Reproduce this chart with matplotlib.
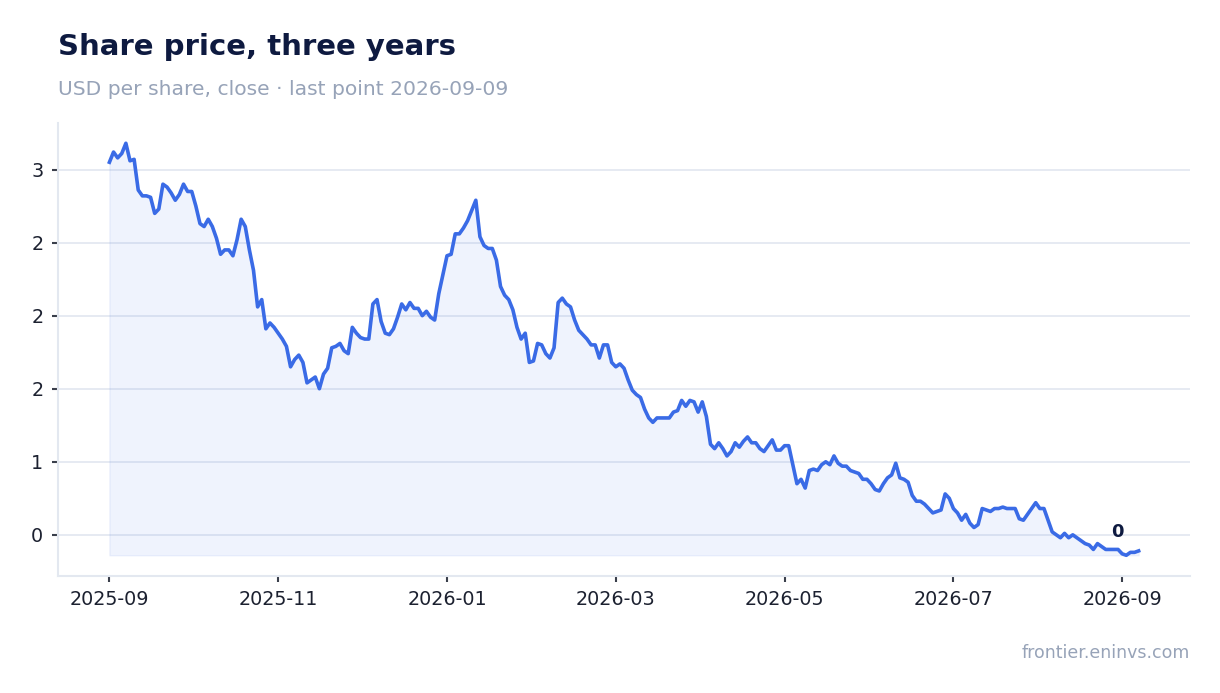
import matplotlib
matplotlib.use("Agg")
import matplotlib.pyplot as plt
import matplotlib.dates as mdates
import matplotlib.ticker as mticker
import numpy as np
import pandas as pd

# closing prices (evenly spaced points)
prices = [
    3.05, 3.12, 3.08, 3.11, 3.18, 3.06, 3.07, 2.86, 2.82, 2.82,
    2.81, 2.70, 2.73, 2.90, 2.88, 2.84, 2.79, 2.83, 2.90, 2.85,
    2.85, 2.75, 2.63, 2.61, 2.66, 2.61, 2.53, 2.42, 2.45, 2.45,
    2.41, 2.52, 2.66, 2.61, 2.45, 2.31, 2.06, 2.11, 1.91, 1.95,
    1.92, 1.88, 1.84, 1.79, 1.65, 1.70, 1.73,
    1.68, 1.54, 1.56, 1.58, 1.50, 1.60, 1.64, 1.78, 1.79, 1.81,
    1.76, 1.74, 1.92, 1.88, 1.85, 1.84, 1.84, 2.08, 2.11, 1.96,
    1.88, 1.87, 1.91, 1.99, 2.08, 2.04, 2.09, 2.05, 2.05, 2.00,
    2.03, 1.99, 1.97, 2.15, 2.28, 2.41, 2.42, 2.56, 2.56, 2.60,
    2.65, 2.72, 2.79, 2.54, 2.48, 2.46, 2.46, 2.38, 2.20,
    2.14, 2.11, 2.04, 1.92, 1.84, 1.88, 1.68, 1.69, 1.81, 1.80,
    1.74, 1.71, 1.78, 2.09, 2.12, 2.08, 2.06, 1.97, 1.90, 1.87,
    1.84, 1.80, 1.80, 1.71, 1.80, 1.80, 1.68, 1.65, 1.67, 1.64,
    1.56, 1.49, 1.46, 1.44, 1.36, 1.30, 1.27, 1.30, 1.30, 1.30,
    1.30, 1.34, 1.35, 1.42, 1.38, 1.42, 1.41,
    1.34, 1.41, 1.31, 1.12, 1.09, 1.13, 1.09, 1.04, 1.07, 1.13,
    1.10, 1.14, 1.17, 1.13, 1.13, 1.09, 1.07, 1.11, 1.15, 1.08,
    1.08, 1.11, 1.11, 0.98, 0.85, 0.88, 0.82, 0.94, 0.95, 0.94,
    0.98, 1.00, 0.98, 1.04, 0.99, 0.97, 0.97, 0.94, 0.93, 0.92,
    0.88, 0.88, 0.85, 0.81, 0.80, 0.85, 0.89,
    0.91, 0.99, 0.89, 0.88, 0.86, 0.77, 0.73, 0.73, 0.71, 0.68,
    0.65, 0.66, 0.67, 0.78, 0.75, 0.68, 0.65, 0.60, 0.64, 0.58,
    0.55, 0.57, 0.68, 0.67, 0.66, 0.68, 0.68, 0.69, 0.68, 0.68,
    0.68, 0.61, 0.60, 0.64, 0.68, 0.72, 0.68, 0.68,
    0.60, 0.52, 0.50, 0.48, 0.51, 0.48, 0.50, 0.48, 0.46, 0.44,
    0.43, 0.40, 0.44, 0.42, 0.40, 0.40, 0.40, 0.40, 0.37, 0.36,
    0.38, 0.38, 0.39,
]
first_day = "2025-09-01"
last_day = "2026-09-09"

# x ticks are evenly spaced in the source chart, two months apart
tick_labels = ["2025-09", "2025-11", "2026-01", "2026-03", "2026-05", "2026-07", "2026-09"]
tick_end = "2026-09-03"

title = "Share price, three years"
subtitle = f"USD per share, close \u00b7 last point {last_day}"
source = "frontier.eninvs.com"

LINE = "#3a6be6"
NAVY = "#0e1a40"
MUTED = "#97a3b8"


def main():
    dates = pd.date_range(first_day, last_day, periods=len(prices))

    fig = plt.figure(figsize=(12.2, 6.93), dpi=100)
    ax = fig.add_axes([0.0475, 0.169, 0.928, 0.654])

    ax.fill_between(dates, prices, min(prices), color=LINE, alpha=0.08, linewidth=1)
    ax.plot(dates, prices, color=LINE, linewidth=2.6, solid_joinstyle="round")

    ax.annotate(f"{prices[-1]:.0f}", xy=(dates[-1], prices[-1]),
                xytext=(-15, 13.5), textcoords="offset points",
                ha="center", va="center", fontsize=13, fontweight="bold", color=NAVY)

    ax.margins(x=0.05, y=0.05)
    ticks = np.linspace(mdates.datestr2num(first_day), mdates.datestr2num(tick_end),
                        len(tick_labels))
    ax.set_xticks(ticks)
    ax.set_xticklabels(tick_labels)
    ax.yaxis.set_major_locator(mticker.MultipleLocator(0.5))
    ax.yaxis.set_major_formatter(mticker.StrMethodFormatter("{x:.0f}"))

    ax.grid(axis="y", color="#e2e6f0", linewidth=1.2)
    ax.set_axisbelow(True)
    for side in ["top", "right"]:
        ax.spines[side].set_visible(False)
    for side in ["left", "bottom"]:
        ax.spines[side].set_color("#e3e8f0")
        ax.spines[side].set_linewidth(1.5)
    ax.tick_params(axis="both", colors="#3a3f4b", labelcolor="#1c2130",
                   labelsize=13.8, length=4.5, width=1.5, pad=6)

    fig.text(0.0475, 0.921, title, fontsize=21, fontweight="bold", color=NAVY)
    fig.text(0.0475, 0.863, subtitle, fontsize=14.6, color=MUTED)
    fig.text(0.975, 0.05, source, fontsize=12.5, color=MUTED, ha="right")

    fig.savefig("out.png", dpi=100)


if __name__ == "__main__":
    main()
